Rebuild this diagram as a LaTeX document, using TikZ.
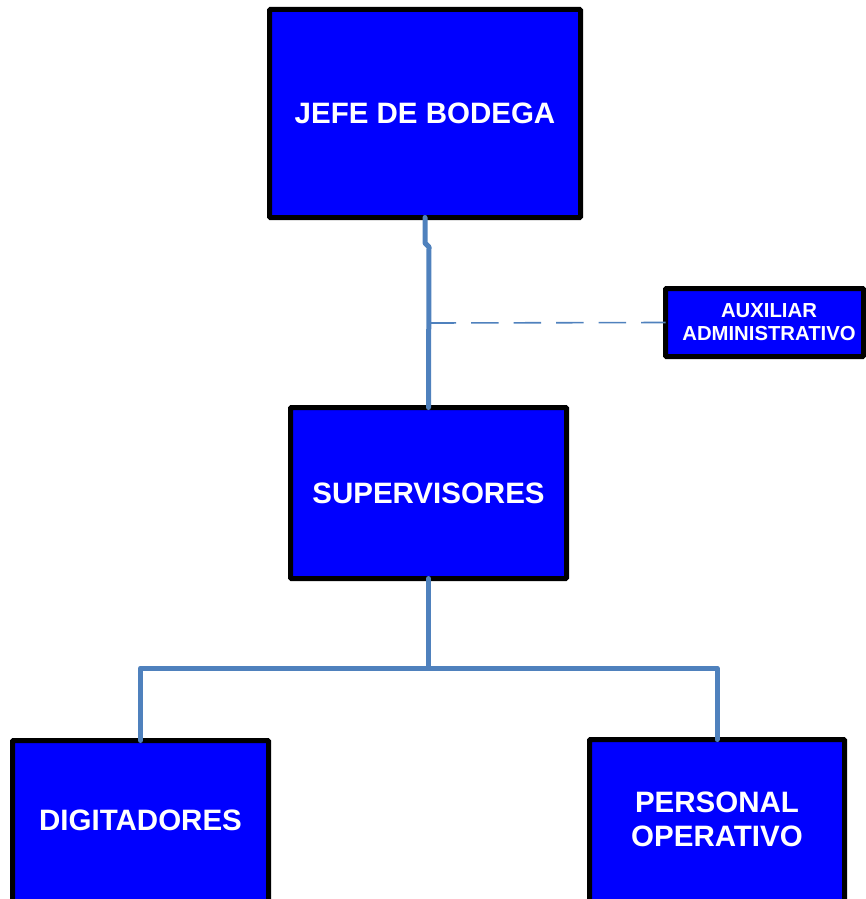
\documentclass[tikz,border=0pt]{standalone}
\usepackage{fontspec}
\setmainfont{Liberation Sans}
\definecolor{boxblue}{HTML}{0000FF}
\definecolor{linkblue}{HTML}{4F81BD}
\begin{document}
\begin{tikzpicture}[x=1pt,y=-1pt,
  orgbox/.style={draw=black,fill=boxblue,line width=5pt,rounded corners=1pt,
    inner sep=0pt,outer sep=0pt,text=white,font=\bfseries\fontsize{29.5}{34}\selectfont,align=center},
  boxtext/.style={text=white,font=\bfseries\fontsize{29.5}{34}\selectfont,align=center,inner sep=0pt},
  smalltext/.style={boxtext,font=\bfseries\fontsize{20.3}{23}\selectfont},
  link/.style={draw=linkblue,line width=5pt,line cap=round,line join=round},
  dashlink/.style={draw=linkblue,line width=1.6pt,dash pattern=on 27.5pt off 15pt}]
\useasboundingbox (0,0) rectangle (866,899);
\clip (0,0) rectangle (866,899);

% boxes
\node[orgbox,minimum width=311pt,minimum height=208pt] (jefe) at (425,113.5) {JEFE DE BODEGA};
\node[orgbox,minimum width=198pt,minimum height=68pt] (aux) at (764.5,322.5) {};
\node[orgbox,minimum width=276pt,minimum height=171pt] (sup) at (428.5,493) {SUPERVISORES};
\node[orgbox,minimum width=256pt,minimum height=200pt,anchor=north] (dig) at (140.5,740.5) {};
\node[orgbox,minimum width=255pt,minimum height=200pt,anchor=north] (per) at (717,739.5) {};
\node[smalltext] (auxtext) at (769,322) {AUXILIAR\\ADMINISTRATIVO};
\node[boxtext] (digtext) at (140.5,820) {DIGITADORES};
\node[boxtext] (pertext) at (717,819) {PERSONAL\\OPERATIVO};

% connectors
\coordinate (kink1) at (425,243);
\coordinate (kink2) at (429,247);
\coordinate (auxtap) at (428.5,323);
\coordinate (bus) at (428.5,668);
\draw[link] (jefe.south) -- (kink1) -- (kink2) -- (sup.north);
\draw[dashlink] (auxtap) -- (aux.west);
\draw[link] (sup.south) -- (bus);
\draw[link] (dig.north) |- (bus) -| (per.north);
\end{tikzpicture}
\end{document}
